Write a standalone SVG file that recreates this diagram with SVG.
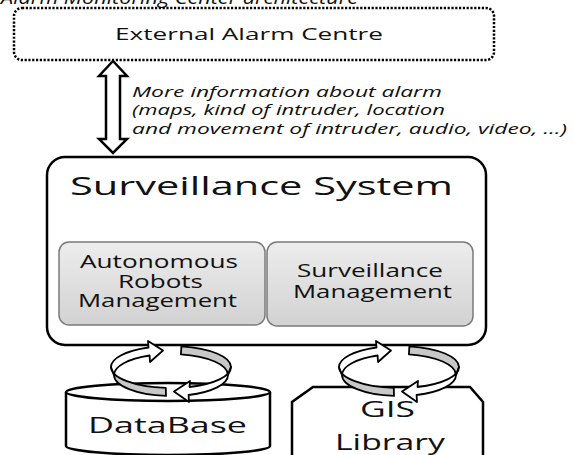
<svg xmlns="http://www.w3.org/2000/svg" width="573" height="455" viewBox="0 0 573 455">
<style>
  .t { font-family: "Open Sans", "Liberation Sans", sans-serif; fill: #111; }
  .it { font-family: "Open Sans", "Liberation Sans", sans-serif; font-style: italic; fill: #111; }
  .shape { fill: #fff; stroke: #000; stroke-width: 2.5; }
  .inner { fill: url(#g); stroke: #7a7a7a; stroke-width: 1.5; }
  .white { fill: #fff; stroke: #000; stroke-width: 1.8; stroke-linejoin: round; }
  .gray { fill: #c8c8c8; stroke: #000; stroke-width: 1.8; stroke-linejoin: round; }
</style>
<defs>
  <linearGradient id="g" x1="0" y1="0" x2="0" y2="1">
    <stop offset="0" stop-color="#ededed"/>
    <stop offset="1" stop-color="#d2d2d2"/>
  </linearGradient>
  <g id="cycle">
    <path class="gray" d="M165.8,387.9 A60,21 0 0 1 111,367 L114,375 A57,21 0 0 0 166,395.9 Z"/>
    <path class="gray" d="M181.4,346.3 A60,21 0 0 1 231,367 L228,375 A57,21 0 0 0 180.9,354.3 Z"/>
    <path class="white" d="M111,367 A60,21 0 0 1 148.5,347.5 L148,341 L163,350.5 L150,362 L149.6,355.5 A57,21 0 0 0 114,375 Z"/>
    <path class="white" d="M231,367 A60,21 0 0 1 189.5,387 L190,381 L174,391.5 L189,402 L188.6,395 A57,21 0 0 0 228,375 Z"/>
  </g>
</defs>
<rect width="573" height="455" fill="#fff"/>

<text class="it" x="1" y="4" font-size="18" textLength="357" lengthAdjust="spacingAndGlyphs">Alarm Monitoring Center architecture</text>

<g id="node-external">
  <rect x="14" y="8" width="480" height="52" rx="8" fill="#fff" stroke="#000" stroke-width="2.5" stroke-dasharray="2.2 1.6"/>
  <text class="t" x="115" y="40" font-size="16.5" textLength="268" lengthAdjust="spacingAndGlyphs">External Alarm Centre</text>
</g>

<g id="node-surveillance-system">
  <rect class="shape" x="47" y="157" width="439" height="188" rx="18" stroke-width="3"/>
  <text class="t" x="70" y="195" font-size="26" textLength="383" lengthAdjust="spacingAndGlyphs">Surveillance System</text>
</g>

<g id="node-autonomous-robots">
  <rect class="inner" x="59" y="242" width="206" height="83" rx="10"/>
  <text class="t" x="80" y="268" font-size="17.5" textLength="158" lengthAdjust="spacingAndGlyphs">Autonomous</text>
  <text class="t" x="118" y="288" font-size="17.5" textLength="85" lengthAdjust="spacingAndGlyphs">Robots</text>
  <text class="t" x="78" y="307" font-size="17.5" textLength="159" lengthAdjust="spacingAndGlyphs">Management</text>
</g>

<g id="node-surveillance-management">
  <rect class="inner" x="267" y="242" width="206" height="84" rx="10"/>
  <text class="t" x="297" y="277" font-size="17.5" textLength="146" lengthAdjust="spacingAndGlyphs">Surveillance</text>
  <text class="t" x="293" y="298" font-size="17.5" textLength="159" lengthAdjust="spacingAndGlyphs">Management</text>
</g>

<g id="node-database">
  <path class="shape" d="M66,392 L66,446 A102,9 0 0 0 270,446 L270,392"/>
  <ellipse class="shape" cx="168" cy="392" rx="102" ry="9"/>
  <text class="t" x="88" y="433" font-size="22" textLength="159" lengthAdjust="spacingAndGlyphs">DataBase</text>
</g>

<g id="node-gis">
  <path class="shape" d="M292,462 L292,402 L313,387 L470,387 L483,402 L483,462"/>
  <text class="t" x="360" y="417" font-size="22" textLength="55" lengthAdjust="spacingAndGlyphs">GIS</text>
  <text class="t" x="335" y="450" font-size="22" textLength="110" lengthAdjust="spacingAndGlyphs">Library</text>
</g>

<g id="connectors">
  <path class="shape" d="M113,61 L127,76 L120,76 L120,139 L127,139 L113,153 L99,139 L106,139 L106,76 L99,76 Z" stroke-linejoin="miter"/>
  <text class="it" x="132" y="97" font-size="14.5" textLength="310" lengthAdjust="spacingAndGlyphs">More information about alarm</text>
  <text class="it" x="132" y="115" font-size="14.5" textLength="313" lengthAdjust="spacingAndGlyphs">(maps, kind of intruder, location</text>
  <text class="it" x="132" y="134" font-size="14.5" textLength="435" lengthAdjust="spacingAndGlyphs">and movement of intruder, audio, video, …)</text>
  <use href="#cycle"/>
  <use href="#cycle" transform="translate(228,0)"/>
</g>
</svg>
